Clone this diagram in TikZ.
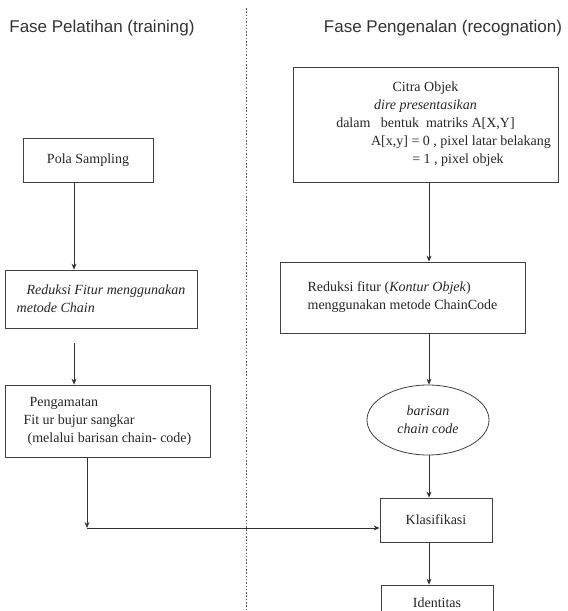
\documentclass[tikz,border=0pt]{standalone}
\usepackage{fontspec}
\setmainfont{Liberation Serif}
\setsansfont{Liberation Sans}
\usetikzlibrary{shapes.geometric, arrows.meta}
\begin{document}
\begin{tikzpicture}[>={Stealth[length=6pt, width=5pt]}, x=1pt, y=-1pt,
    box/.style={draw=black!75, line width=0.8pt, rectangle, inner sep=0pt, text=black!85, font=\boxfont},
    phase/.style={font=\sffamily\fontsize{17}{20}\selectfont, text=black!80},
    flow/.style={->, line width=0.8pt, draw=black!80}]
    % Convenient font for the box texts
    \def\boxfont{\fontsize{14}{18}\selectfont}

    \useasboundingbox (0,0) rectangle (568,611);
    \clip (0,0) rectangle (568,611);

    % Phase titles and the dashed divider
    \node[phase] (tTrain) at (102,28) {Fase Pelatihan (training)};
    \node[phase] (tRecog) at (443,28) {Fase Pengenalan (recognation)};
    \coordinate (divTop) at (246,8);
    \coordinate (divBot) at (246,611);
    \draw[black!65, line width=0.7pt, dash pattern=on 1.5pt off 1.8pt] (divTop) -- (divBot);

    % Training phase - left column
    \node[box, minimum width=130, minimum height=44] (pola) at (88,160) {Pola Sampling};
    \node[box, minimum width=192, minimum height=58, align=left, font=\boxfont\itshape] (redL) at (101,299)
        {\hspace*{10pt}Reduksi Fitur menggunakan\\metode Chain};
    \node[box, minimum width=205, minimum height=72, align=left] (amat) at (107.5,421)
        {\hspace*{6pt}Pengamatan\\Fit ur bujur sangkar\\\hspace*{4pt}(melalui barisan chain- code)};

    % Recognition phase - right column
    \node[box, minimum width=265, minimum height=115, align=center] (citra) at (425.5,124.5)
        {Citra Objek\\\textit{dire presentasikan}\\dalam \ \ bentuk \ matriks A[X,Y]\\
         \makebox[0pt]{\hspace{71pt}A[x,y] = 0 , pixel latar belakang}\\
         \makebox[0pt]{\hspace{65pt}= 1 , pixel objek}};
    \node[box, minimum width=245, minimum height=71, align=left] (redR) at (402.5,297.5)
        {Reduksi fitur (\textit{Kontur Objek})\\menggunakan metode ChainCode};
    \node[box, ellipse, minimum width=122, minimum height=70, align=center, font=\boxfont\itshape] (chain) at (428,420)
        {barisan\\chain code};
    \node[box, minimum width=112, minimum height=44] (klas) at (436,520) {Klasifikasi};
    \node[box, minimum width=112, minimum height=36] (ident) at (437,603) {Identitas};

    % Arrows down the left column, then across to the classifier
    \coordinate (colL) at (74,0);
    \coordinate (turn) at (87,528);
    \draw[flow] (pola.south -| colL) -- (redL.north -| colL);
    \draw[flow, shorten <=15pt] (redL.south -| colL) -- (amat.north -| colL);
    \draw[flow] (amat.south -| turn) -- (turn);
    \draw[flow] (turn) -- (klas.west |- turn);

    % Arrows down the right column
    \coordinate (colR) at (429,0);
    \draw[flow] (citra.south -| colR) -- (redR.north -| colR);
    \draw[flow] (redR.south -| colR) -- (chain.north -| colR);
    \draw[flow] (chain.south -| colR) -- (klas.north -| colR);
    \draw[flow] (klas.south -| colR) -- (ident.north -| colR);

\end{tikzpicture}
\end{document}
